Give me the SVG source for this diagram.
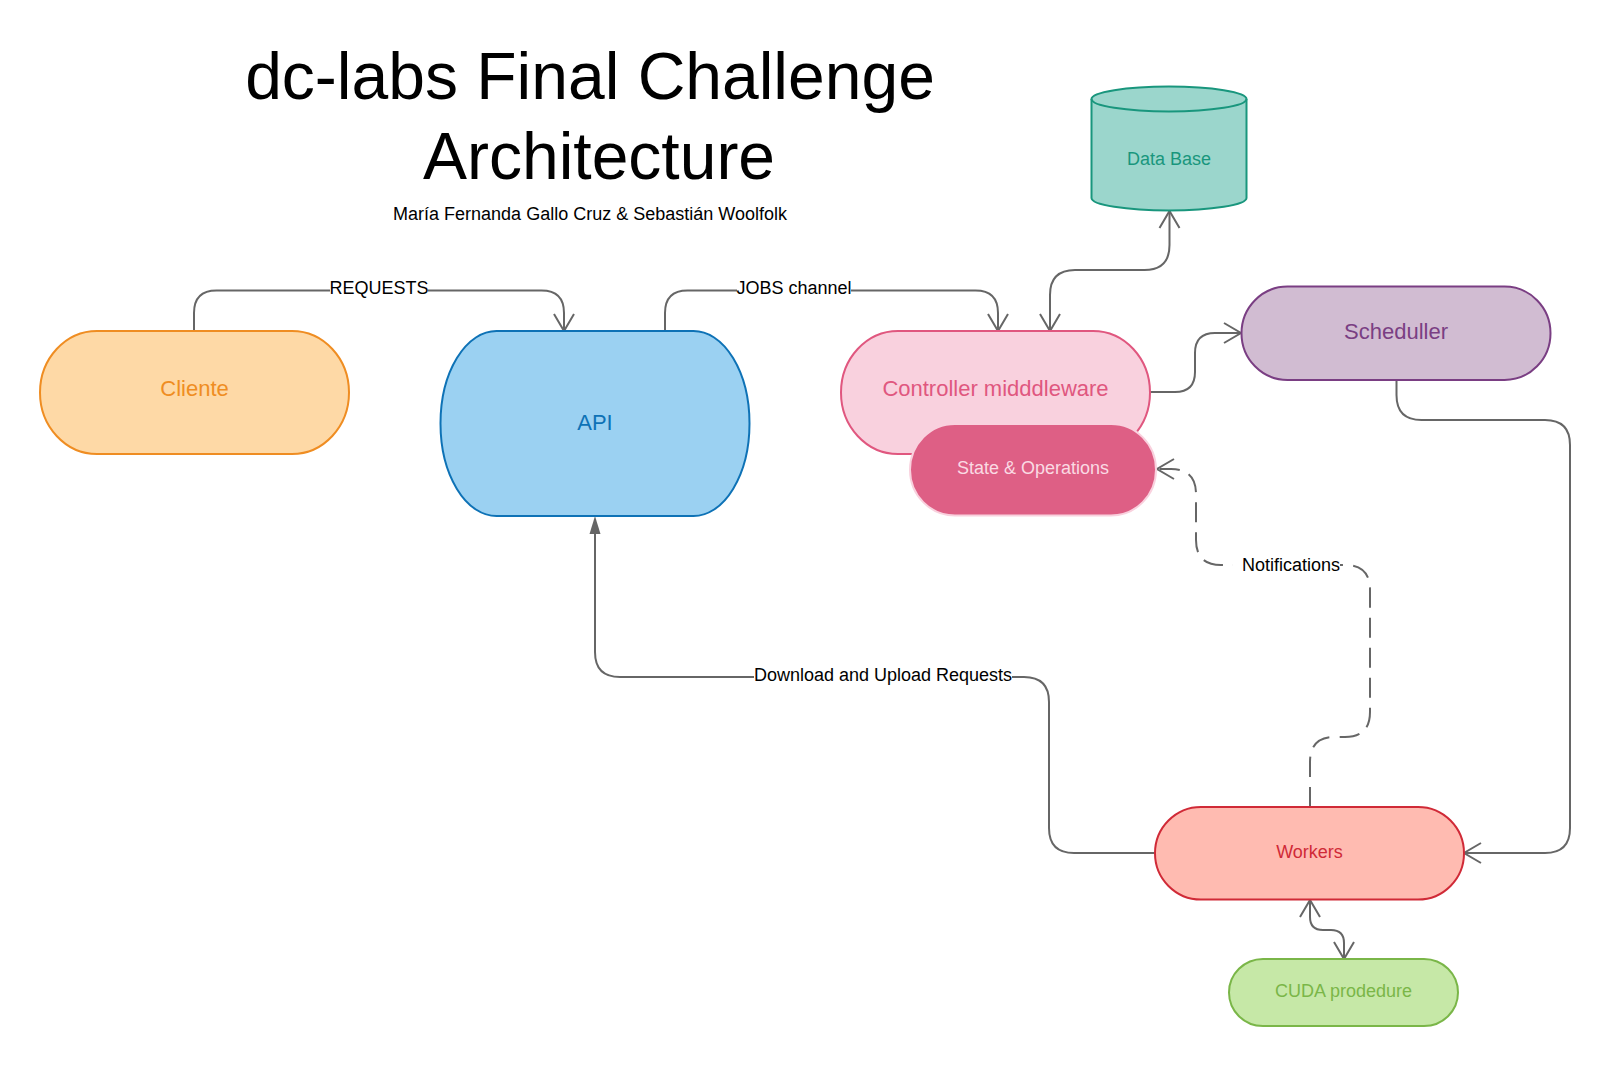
<svg xmlns="http://www.w3.org/2000/svg" width="1610" height="1067" viewBox="0 0 1610 1067">
<style>
text{font-family:"Liberation Sans",Arial,sans-serif;text-anchor:middle}
.title{font-size:66px;fill:#000}
.sub{font-size:18px;fill:#000}
.lbl{font-size:18px;fill:#000}
.node{stroke-width:2}
.big{font-size:22px}
.sm{font-size:18px}
.conn{fill:none;stroke:#666;stroke-width:2}
.dash{stroke-dasharray:20 10}
.bg{fill:#fff}
</style>
<defs>
<marker id="open" viewBox="-20 -12 22 24" refX="0" refY="0" markerWidth="22" markerHeight="24" markerUnits="userSpaceOnUse" orient="auto-start-reverse">
<path d="M -17,-10 L 0,0 L -17,10" fill="none" stroke="#666" stroke-width="2"/>
</marker>
<marker id="solid" viewBox="-20 -7 21 14" refX="-18" refY="0" markerWidth="21" markerHeight="14" markerUnits="userSpaceOnUse" orient="auto">
<path d="M -18,-5.5 L 0,0 L -18,5.5 Z" fill="#666"/>
</marker>
</defs>
<rect width="1610" height="1067" fill="#fff"/>

<g id="title">
<text class="title" x="590" y="99">dc-labs Final Challenge</text>
<text class="title" x="599" y="179">Architecture</text>
<text class="sub" x="590" y="220">María Fernanda Gallo Cruz &amp; Sebastián Woolfolk</text>
</g>

<g id="connectors">
<path class="conn" d="M 194,331 V 313 Q 194,290.5 216.5,290.5 H 541.5 Q 564,290.5 564,313 V 331" marker-end="url(#open)"/>
<path class="conn" d="M 665,331 V 313 Q 665,290.5 687.5,290.5 H 975.5 Q 998,290.5 998,313 V 331" marker-end="url(#open)"/>
<path class="conn" d="M 1050,331 V 295 Q 1050,270 1075,270 H 1144.5 Q 1169.5,270 1169.5,245 V 211" marker-start="url(#open)" marker-end="url(#open)"/>
<path class="conn" d="M 1150,392 H 1175 Q 1195,392 1195,372 V 353 Q 1195,333 1215,333 H 1241" marker-end="url(#open)"/>
<path class="conn" d="M 1396.5,380 V 395 Q 1396.5,420 1421.5,420 H 1545 Q 1570,420 1570,445 V 828 Q 1570,853 1545,853 H 1464" marker-end="url(#open)"/>
<path class="conn" d="M 1155,853 H 1074 Q 1049,853 1049,828 V 702 Q 1049,677 1024,677 H 620 Q 595,677 595,652 V 534" marker-end="url(#solid)"/>
<path class="conn dash" d="M 1310,807 V 762 Q 1310,737 1335,737 H 1345 Q 1370,737 1370,712 V 590 Q 1370,565 1345,565 H 1221 Q 1196,565 1196,540 V 494 Q 1196,469 1171,469 H 1157" marker-end="url(#open)"/>
<path class="conn" d="M 1310,900 V 917 Q 1310,930 1323,930 H 1331 Q 1344,930 1344,943 V 959" marker-start="url(#open)" marker-end="url(#open)"/>
<rect class="bg" x="330" y="278" width="98" height="20"/>
<text class="lbl" x="379" y="294">REQUESTS</text>
<rect class="bg" x="737" y="278" width="114" height="20"/>
<text class="lbl" x="794" y="294">JOBS channel</text>
<rect class="bg" x="754" y="665" width="258" height="20"/>
<text class="lbl" x="883" y="681">Download and Upload Requests</text>
<rect class="bg" x="1233" y="555" width="107" height="20"/>
<text class="lbl" x="1291" y="571">Notifications</text>
</g>

<g id="cliente">
<path class="node" d="M 97,331 H 292 A 57 61.5 0 0 1 292,454 H 97 A 57 61.5 0 0 1 97,331 Z" fill="#fed9a6" stroke="#ef8d22"/>
<text class="big" x="194.5" y="396" fill="#ef8d22">Cliente</text>
</g>

<g id="api">
<path class="node" d="M 496.5,331 H 693.5 A 56 92.5 0 0 1 693.5,516 H 496.5 A 56 92.5 0 0 1 496.5,331 Z" fill="#9bd1f2" stroke="#0e72b6"/>
<text class="big" x="595" y="430" fill="#0e72b6">API</text>
</g>

<g id="controller">
<path class="node" d="M 898,331 H 1093 A 57 61.5 0 0 1 1093,454 H 898 A 57 61.5 0 0 1 898,331 Z" fill="#f9d1de" stroke="#e0577f"/>
<text class="big" x="995.5" y="396" fill="#e0577f">Controller midddleware</text>
</g>

<g id="state">
<path class="node" d="M 955,424 H 1111 A 45 45.75 0 0 1 1111,515.5 H 955 A 45 45.75 0 0 1 955,424 Z" fill="#de5f85" stroke="#f9d1de"/>
<text class="sm" x="1033" y="473.5" fill="#fadae3">State &amp; Operations</text>
</g>

<g id="database">
<path class="node" d="M 1091.5,99 A 77.5 12.5 0 0 1 1246.5,99 V 198 A 77.5 12.5 0 0 1 1091.5,198 Z" fill="#9bd6cc" stroke="#19967d"/>
<path class="node" d="M 1091.5,99 A 77.5 12.5 0 0 0 1246.5,99" fill="none" stroke="#19967d"/>
<text class="sm" x="1169" y="164.5" fill="#19967d">Data Base</text>
</g>

<g id="scheduller">
<path class="node" d="M 1287.5,286.5 H 1504.5 A 46 46.75 0 0 1 1504.5,380 H 1287.5 A 46 46.75 0 0 1 1287.5,286.5 Z" fill="#d1bcd2" stroke="#7a3e83"/>
<text class="big" x="1396" y="338.5" fill="#7a3e83">Scheduller</text>
</g>

<g id="workers">
<path class="node" d="M 1201,807 H 1418 A 46 46.25 0 0 1 1418,899.5 H 1201 A 46 46.25 0 0 1 1201,807 Z" fill="#ffbbb1" stroke="#d02a37"/>
<text class="sm" x="1309.5" y="857.5" fill="#d02a37">Workers</text>
</g>

<g id="cuda">
<path class="node" d="M 1263,959 H 1424 A 34 33.5 0 0 1 1424,1026 H 1263 A 34 33.5 0 0 1 1263,959 Z" fill="#c6e8a7" stroke="#7ab648"/>
<text class="sm" x="1343.5" y="996.5" fill="#7ab648">CUDA prodedure</text>
</g>
</svg>
